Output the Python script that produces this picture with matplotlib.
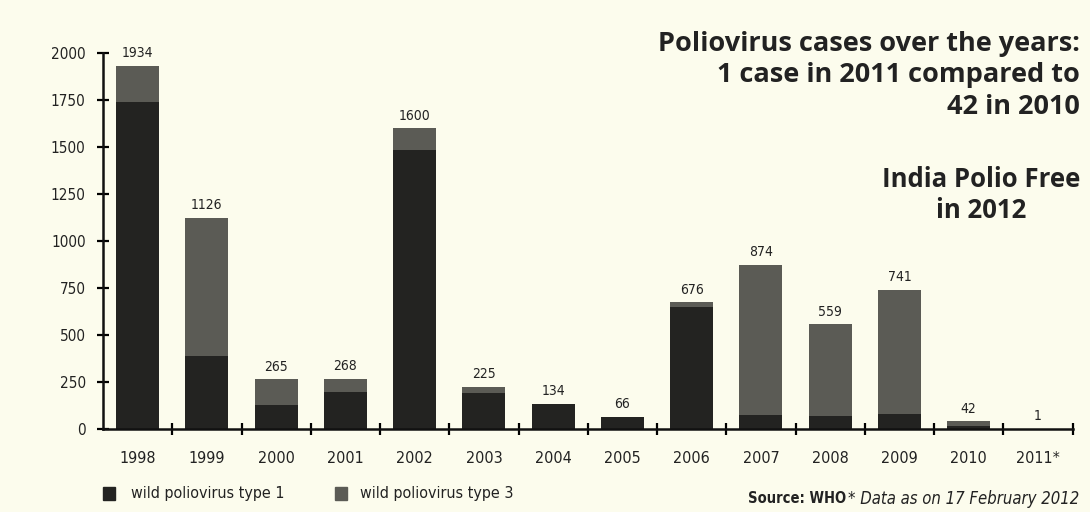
import numpy as np
import matplotlib
matplotlib.use('Agg')
from matplotlib import pyplot as plt
from matplotlib import font_manager

years = ['1998', '1999', '2000', '2001', '2002', '2003', '2004',
         '2005', '2006', '2007', '2008', '2009', '2010', '2011*']
type1 = [1743, 390, 129, 200, 1485, 191, 134, 66, 648, 78, 72, 79, 18, 1]
type3 = [191, 736, 136, 68, 115, 34, 0, 0, 28, 796, 487, 662, 24, 0]
totals = [1934, 1126, 265, 268, 1600, 225, 134, 66, 676, 874, 559, 741, 42, 1]
yticks = [0, 250, 500, 750, 1000, 1250, 1500, 1750, 2000]

BG = '#fcfced'
DARK = '#232321'
GREY = '#5b5b55'
INK = '#222222'

_fonts = font_manager.fontManager.ttflist
_condensed = [f for f in _fonts if f.name == 'DejaVu Sans' and 'condensed' in str(f.stretch)]
NARROW = dict(family='DejaVu Sans', stretch='condensed' if _condensed else 'normal')
HEAD = dict(family='Open Sans', stretch='normal', fontweight='bold')

fig = plt.figure(figsize=(10.9, 5.12), dpi=100, facecolor=BG)
ax = fig.add_axes([0.0945, 0.1615, 0.8895, 0.7345])
ax.set_facecolor(BG)

x = np.arange(len(years))
ax.bar(x, type1, width=0.62, color=DARK, zorder=2)
ax.bar(x, type3, width=0.62, bottom=type1, color=GREY, zorder=2)
for xi, t in zip(x, totals):
    ax.text(xi, t + 30, str(t), ha='center', va='bottom', fontsize=10,
            color=INK, clip_on=False, **NARROW)

ax.set_xlim(-0.5, len(years) - 0.5)
ax.set_ylim(0, 2000)
for s in ['top', 'right']:
    ax.spines[s].set_visible(False)
for s in ['left', 'bottom']:
    ax.spines[s].set_linewidth(1.8)
    ax.spines[s].set_color('#111111')

ax.set_yticks(yticks)
ax.set_yticklabels([str(v) for v in yticks], fontsize=11, color=INK, **NARROW)
ax.tick_params(axis='y', direction='inout', length=9, width=1.6, pad=8)

# ticks sit between the bars, labels under each bar
ax.set_xticks(x + 0.5)
ax.set_xticklabels([])
ax.tick_params(axis='x', direction='inout', length=9, width=1.6)
for xi, lab in zip(x, years):
    ax.text(xi, -0.058, lab, transform=ax.get_xaxis_transform(), ha='center',
            va='top', fontsize=11.5, color=INK, **NARROW)

# legend
fig.patches.append(plt.Rectangle((0.0945, 0.024), 0.011, 0.024, color=DARK,
                                 transform=fig.transFigure, figure=fig))
fig.text(0.1205, 0.036, 'wild poliovirus type 1', fontsize=11.5,
         va='center', color=INK, **NARROW)
fig.patches.append(plt.Rectangle((0.307, 0.024), 0.011, 0.024, color=GREY,
                                 transform=fig.transFigure, figure=fig))
fig.text(0.330, 0.036, 'wild poliovirus type 3', fontsize=11.5,
         va='center', color=INK, **NARROW)

fig.text(0.686, 0.026, 'Source: WHO', fontsize=10.5, fontweight='bold',
         va='center', color=INK, **NARROW)
fig.text(0.778, 0.026, '* Data as on 17 February 2012', fontsize=12,
         style='italic', va='center', color=INK, **NARROW)

fig.text(0.991, 0.94, 'Poliovirus cases over the years:\n1 case in 2011 compared to\n42 in 2010',
         ha='right', va='top', multialignment='right', fontsize=19.5,
         linespacing=1.27, color=INK, **HEAD)
fig.text(0.991, 0.675, 'India Polio Free\nin 2012', ha='right', va='top',
         multialignment='center', fontsize=18.5, linespacing=1.15, color=INK,
         **HEAD)

fig.savefig('out.png', dpi=100, facecolor=BG)
